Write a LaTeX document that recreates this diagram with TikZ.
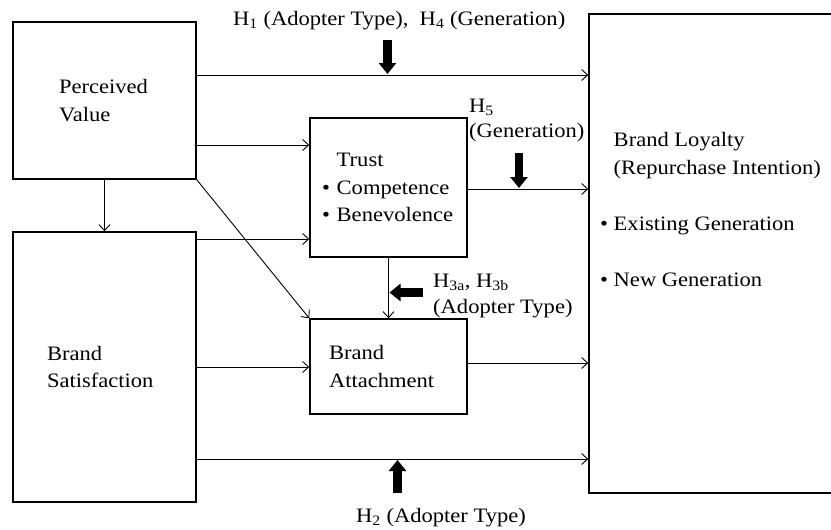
\documentclass[tikz,border=0pt]{standalone}
\usepackage{fontspec}
\setmainfont{Liberation Serif}[FakeStretch=1.1]
\usetikzlibrary{arrows.meta,calc}

\begin{document}
\begin{tikzpicture}[
    x=1pt, y=-1pt,
    every node/.style={font=\fontsize{20.5}{27.5}\selectfont, inner sep=0pt},
    box/.style={draw, line width=1.5pt, align=left},
    flow/.style={-{Straight Barb[length=6pt,width=11pt]}, line width=0.9pt},
    moder/.style={-{Triangle[length=11pt,width=17pt]}, line width=8.5pt},
    hyp/.style={anchor=base west, align=left}
  ]
  \useasboundingbox (0,0) rectangle (831,530);

  \node[box, minimum width=183pt, minimum height=157pt, text width=91pt] (pv) at (104.5,100.5)
    {Perceived\\Value};
  \node[box, minimum width=183pt, minimum height=270pt, text width=115pt] (bs) at (104.5,367)
    {Brand\\Satisfaction};
  \node[box, minimum width=157pt, minimum height=139pt, text width=133pt] (trust) at (388.5,187.5)
    {\phantom{\textbullet\ }Trust\\\textbullet\ Competence\\\textbullet\ Benevolence};
  \node[box, minimum width=157pt, minimum height=95pt, text width=119pt] (att) at (388.5,366.5)
    {Brand\\Attachment};
  % la boite de fidelite deborde a droite, comme dans l'original
  \node[box, minimum width=262pt, minimum height=479pt] (loy) at (720,253.5) {};
  % ancre base = ligne de base de la derniere ligne
  \node[hyp] (loytext) at (600,286)
    {\phantom{\textbullet\ }Brand Loyalty\\
     \phantom{\textbullet\ }(Repurchase Intention)\\[28.5pt]
     \textbullet\ Existing Generation\\[28.5pt]
     \textbullet\ New Generation};

  \foreach \a/\b/\s in {pv/loy/25.5, pv/trust/-44.5, bs/trust/128, trust/loy/-1.5,
                        bs/att/0, att/loy/3.5, bs/loy/-92}
    {\draw[flow] ([yshift=\s pt]\a.east) -- ([yshift=\s pt]\a.east -| \b.west);}
  \draw[flow] (pv.south) -- (bs.north);
  \draw[flow] (pv.south east) -- (att.north west);
  \draw[flow] (trust.south) -- (att.north);

  % fleches des moderateurs
  \coordinate (h1tail) at (387.5,40);  \coordinate (h1tip) at (387.5,74);
  \coordinate (h5tail) at (519,153);   \coordinate (h5tip) at (519,188);
  \coordinate (h3tail) at (423,292.5); \coordinate (h3tip) at (389.5,292.5);
  \coordinate (h2tail) at (397.5,493); \coordinate (h2tip) at (397.5,460);
  \foreach \h in {h1, h5, h3, h2} {\draw[moder] (\h tail) -- (\h tip);}

  \node[hyp] (h1lab) at (233,25) {H\textsubscript{1} (Adopter Type),~ H\textsubscript{4} (Generation)};
  \node[hyp] (h5lab) at (469,137) {H\textsubscript{5}\\[-3pt](Generation)};
  \node[hyp] (h3lab) at (433,313) {H\textsubscript{3a}, H\textsubscript{3b}\\[-1.5pt](Adopter Type)};
  \node[hyp] (h2lab) at (356,522) {H\textsubscript{2} (Adopter Type)};

\end{tikzpicture}
\end{document}
